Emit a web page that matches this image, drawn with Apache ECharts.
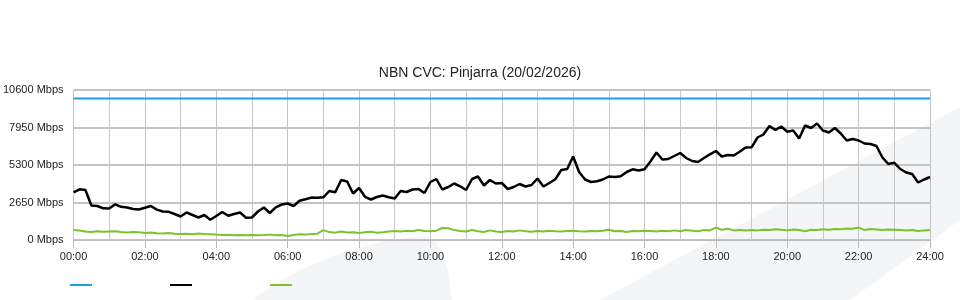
<!DOCTYPE html>
<html>
<head>
<meta charset="utf-8">
<script src="https://cdn.jsdelivr.net/npm/echarts@6/dist/echarts.min.js"></script>
<style>html,body{margin:0;padding:0;background:#fff;}#c{width:960px;height:300px;}</style>
</head>
<body>
<div id="c"></div>
<script>
// 10-minute samples, 00:00 .. 24:00 (145 points)
const titleText = 'NBN CVC: Pinjarra (20/02/2026)';
const yTicks = [0, 2650, 5300, 7950, 10600];
const capacityValue = 10000;
const downloadValues = [
  3371, 3583, 3533, 2438, 2403, 2240,
  2226, 2523, 2346, 2297, 2191, 2155,
  2283, 2403, 2148, 2014, 1993, 1837,
  1661, 1943, 1767, 1590, 1767, 1427,
  1696, 1979, 1710, 1837, 1943, 1576,
  1590, 2014, 2297, 1908, 2311, 2509,
  2579, 2403, 2777, 2876, 2996, 2989,
  3017, 3463, 3371, 4240, 4134, 3286,
  3675, 3053, 2862, 3039, 3145, 3017,
  2933, 3463, 3392, 3569, 3604, 3321,
  4099, 4311, 3569, 3745, 3993, 3795,
  3533, 4311, 4487, 3851, 4240, 3993,
  4028, 3604, 3745, 3957, 3781, 3887,
  4346, 3781, 4028, 4289, 4947, 5017,
  5900, 4805, 4275, 4099, 4148, 4275,
  4487, 4452, 4501, 4805, 4996, 4911,
  4996, 5547, 6183, 5689, 5724, 5936,
  6148, 5795, 5583, 5512, 5795, 6056,
  6289, 5901, 6007, 5971, 6233, 6537,
  6551, 7243, 7455, 8056, 7773, 8021,
  7653, 7738, 7173, 8091, 7915, 8233,
  7738, 7597, 7915, 7526, 7031, 7137,
  7031, 6819, 6784, 6643, 5830, 5371,
  5455, 5017, 4770, 4664, 4063, 4275,
  4452
];
const uploadValues = [
  707, 670, 600, 560, 620, 580,
  600, 620, 560, 530, 560, 540,
  500, 530, 470, 460, 500, 450,
  420, 440, 400, 460, 420, 400,
  380, 350, 370, 340, 360, 330,
  360, 340, 350, 380, 330, 350,
  280, 350, 400, 380, 430, 450,
  700, 560, 520, 600, 530, 550,
  500, 540, 580, 520, 550, 600,
  640, 600, 660, 620, 700, 640,
  620, 660, 850, 830, 700, 640,
  600, 700, 620, 560, 680, 600,
  560, 640, 600, 680, 620, 580,
  640, 600, 660, 620, 600, 640,
  660, 620, 600, 640, 620, 660,
  720, 620, 640, 560, 640, 620,
  660, 640, 600, 660, 620, 680,
  620, 700, 660, 620, 700, 680,
  880, 720, 800, 680, 700, 680,
  700, 680, 720, 700, 760, 720,
  680, 740, 700, 620, 720, 700,
  760, 720, 780, 760, 820, 800,
  880, 700, 780, 740, 700, 740,
  720, 700, 680, 700, 640, 680,
  700
];

const hourOf = i => i / 6;
const capData = downloadValues.map((v, i) => [hourOf(i), capacityValue]);
const dlData = downloadValues.map((v, i) => [hourOf(i), v]);
const ulData = uploadValues.map((v, i) => [hourOf(i), v]);

const font = '"Liberation Sans", Arial, sans-serif';
const chart = echarts.init(document.getElementById('c'), null, {renderer: 'canvas'});
const legendBase = {
  top: 284, icon: 'rect', itemWidth: 22, itemHeight: 2,
  formatter: () => '', selectedMode: false, padding: 0
};
chart.setOption({
  animation: false,
  backgroundColor: '#fff',
  textStyle: {fontFamily: font},
  graphic: [
    {type: 'polygon', z: -10, silent: true,
     shape: {points: [[253,300],[275,284],[300,270],[330,257],[360,247],[390,240],[425,236],[437,243],[444,256],[449,275],[452,300]]},
     style: {fill: '#f4f5f7'}},
    {type: 'polygon', z: -10, silent: true,
     shape: {points: [[600,300],[960,107],[960,220],[850,300]]},
     style: {fill: '#f4f5f7'}}
  ],
  title: {
    text: titleText, left: 'center', top: 61,
    textStyle: {fontSize: 14, fontWeight: 'normal', color: '#222', fontFamily: font}
  },
  legend: [
    Object.assign({left: 70, data: ['Capacity']}, legendBase),
    Object.assign({left: 170, data: ['Download']}, legendBase),
    Object.assign({left: 270, data: ['Upload']}, legendBase)
  ],
  grid: {left: 70, right: 30, top: 90, bottom: 60, containLabel: false},
  xAxis: {
    type: 'value', min: 0, max: 24, interval: 2,
    axisLine: {show: true, lineStyle: {color: '#bbb', width: 1}},
    axisTick: {show: true, length: 8, lineStyle: {color: '#bbb'}},
    axisLabel: {
      margin: 11, fontSize: 11, color: '#222', fontFamily: font,
      formatter: v => String(v).padStart(2, '0') + ':00'
    },
    splitLine: {show: true, lineStyle: {color: '#c4c4c4', width: 1}},
    minorTick: {show: false, splitNumber: 2},
    minorSplitLine: {show: true, lineStyle: {color: '#c8c8c8', width: 1}}
  },
  yAxis: {
    type: 'value', min: 0, max: 10600, interval: 2650,
    axisLine: {show: false},
    axisTick: {show: false},
    axisLabel: {margin: 10, fontSize: 11, color: '#222', fontFamily: font,
      formatter: v => v + ' Mbps'},
    splitLine: {show: true, lineStyle: {color: '#c4c4c4', width: 2}}
  },
  series: [
    {name: 'Capacity', type: 'line', data: capData, showSymbol: false,
     lineStyle: {color: '#1e9fe0', width: 2}, itemStyle: {color: '#1e9fe0'}},
    {name: 'Download', type: 'line', data: dlData, showSymbol: false,
     lineStyle: {color: '#000', width: 2.5}, itemStyle: {color: '#000'}},
    {name: 'Upload', type: 'line', data: ulData, showSymbol: false,
     lineStyle: {color: '#7cc22c', width: 2}, itemStyle: {color: '#7cc22c'}}
  ]
});
</script>
</body>
</html>
